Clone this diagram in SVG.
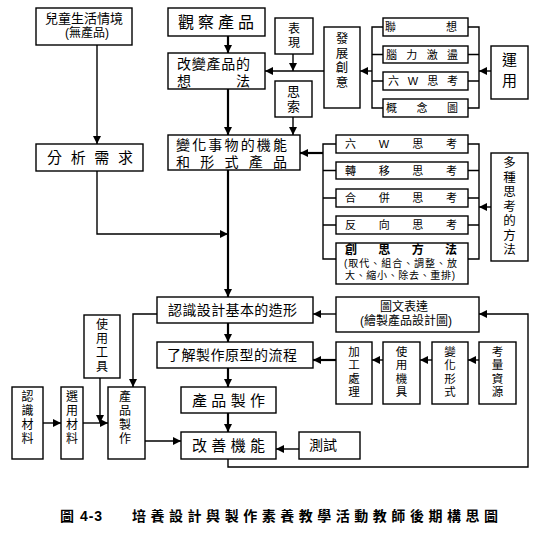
<svg xmlns="http://www.w3.org/2000/svg" width="552" height="540" viewBox="0 0 552 540">
<style>
text{font-family:"Liberation Sans","Noto Sans CJK TC","Noto Sans CJK SC",sans-serif;fill:#000;dominant-baseline:central}
.b{fill:#fff;stroke:#000;stroke-width:1.4}
.c{fill:none;stroke:#000;stroke-width:1.4}
.t{stroke-width:2.2}
.s10{font-size:10px}.s11{font-size:11px}.s115{font-size:11.5px}.s12{font-size:12px}.s125{font-size:12.5px}.s13{font-size:13px}.s14{font-size:14px}.s15{font-size:15px}.s16{font-size:16px}
.m{text-anchor:middle}
.bold{font-weight:bold}
</style>
<defs>
<marker id="ah" viewBox="0 0 10 10" refX="10" refY="5" markerWidth="8" markerHeight="8" orient="auto" markerUnits="userSpaceOnUse"><path d="M0,0 L10,5 L0,10 z" fill="#000"/></marker>
</defs>
<rect width="552" height="540" fill="#fff"/>

<g id="connectors">
<path class="c" d="M97,45 V144" marker-end="url(#ah)"/>
<path class="c t" d="M228,36 V53" marker-end="url(#ah)"/>
<path class="c t" d="M228,89 V135" marker-end="url(#ah)"/>
<path class="c" d="M293,54 V71" marker-end="url(#ah)"/>
<path class="c" d="M324,71 H265" marker-end="url(#ah)"/>
<path class="c" d="M293,117 V135" marker-end="url(#ah)"/>
<path class="c" d="M383,27 H372 V108 H383 M372,54.5 H383 M372,81 H383"/>
<path class="c" d="M372,71 H360" marker-end="url(#ah)"/>
<path class="c" d="M468,27 H479 V108 H468 M468,54.5 H479 M468,81 H479"/>
<path class="c" d="M491,71 H479" marker-end="url(#ah)"/>
<path class="c" d="M97,171 V234 H228" marker-end="url(#ah)"/>
<path class="c t" d="M228,170 V297" marker-end="url(#ah)"/>
<path class="c" d="M336,144 H323 V259 H336 M323,170.5 H336 M323,198 H336 M323,225 H336"/>
<path class="c t" d="M323,153 H300" marker-end="url(#ah)"/>
<path class="c" d="M468,144 H479 V259 H468 M468,170.5 H479 M468,198 H479 M468,225 H479"/>
<path class="c" d="M491,207 H479" marker-end="url(#ah)"/>
<path class="c" d="M157,314 H133 V387" marker-end="url(#ah)"/>
<path class="c t" d="M228,323 V342" marker-end="url(#ah)"/>
<path class="c t" d="M228,368 V387" marker-end="url(#ah)"/>
<path class="c t" d="M228,413 V432" marker-end="url(#ah)"/>
<path class="c" d="M336,314 H313" marker-end="url(#ah)"/>
<path class="c t" d="M336,360 H313" marker-end="url(#ah)"/>
<path class="c" d="M383,360 H372" marker-end="url(#ah)"/>
<path class="c" d="M432,360 H420" marker-end="url(#ah)"/>
<path class="c" d="M479,360 H468" marker-end="url(#ah)"/>
<path class="c" d="M100,378 V423" marker-end="url(#ah)"/>
<path class="c" d="M43,423 H61" marker-end="url(#ah)"/>
<path class="c" d="M83,423 H108" marker-end="url(#ah)"/>
<path class="c" d="M145,441 H181" marker-end="url(#ah)"/>
<path class="c" d="M299,449 H276" marker-end="url(#ah)"/>
<path class="c" d="M228,459 V467 H528 V314 H479" marker-end="url(#ah)"/>
</g>

<g id="n-situation">
<rect class="b" x="36" y="8" width="96" height="37"/>
<text class="s13 m" x="84" y="18">兒童生活情境</text>
<text class="s12 m" x="87" y="33">(無產品)</text>
</g>
<g id="n-observe">
<rect class="b" x="168" y="8" width="97" height="28"/>
<text class="s16" x="178" y="22" textLength="76" lengthAdjust="spacing">觀察產品</text>
</g>
<g id="n-change-idea">
<rect class="b" x="168" y="53" width="97" height="36"/>
<text class="s14" x="177" y="63.5" textLength="73" lengthAdjust="spacing">改變產品的</text>
<text class="s14" x="177" y="80.5" textLength="73" lengthAdjust="spacing">想法</text>
</g>
<g id="n-express">
<rect class="b" x="275" y="18" width="38" height="36"/>
<text class="s12 m" x="294" y="29">表</text>
<text class="s12 m" x="294" y="43">現</text>
</g>
<g id="n-think">
<rect class="b" x="275" y="81" width="37" height="36"/>
<text class="s13 m" x="293.5" y="91">思</text>
<text class="s13 m" x="293.5" y="106">索</text>
</g>
<g id="n-creativity">
<rect class="b" x="324" y="27" width="36" height="81"/>
<text class="s125 m" x="342" y="39">發</text>
<text class="s125 m" x="342" y="53.5">展</text>
<text class="s125 m" x="342" y="68">創</text>
<text class="s125 m" x="342" y="82.5">意</text>
</g>
<g id="n-assoc">
<rect class="b" x="383" y="18" width="85" height="18"/>
<text class="s11" x="385" y="27" textLength="72" lengthAdjust="spacing">聯想</text>
</g>
<g id="n-brainstorm">
<rect class="b" x="383" y="46" width="85" height="17"/>
<text class="s11" x="386" y="54.5" textLength="72" lengthAdjust="spacing">腦力激盪</text>
</g>
<g id="n-6w-a">
<rect class="b" x="383" y="72" width="85" height="18"/>
<text class="s11" x="388" y="81" textLength="70" lengthAdjust="spacing">六W思考</text>
</g>
<g id="n-conceptmap">
<rect class="b" x="383" y="99" width="85" height="18"/>
<text class="s11" x="386" y="108" textLength="72" lengthAdjust="spacing">概念圖</text>
</g>
<g id="n-apply">
<rect class="b" x="491" y="46" width="37" height="53"/>
<text class="s15 m" x="509.5" y="59">運</text>
<text class="s15 m" x="509.5" y="80">用</text>
</g>
<g id="n-analyze">
<rect class="b" x="36" y="144" width="107" height="27"/>
<text class="s15" x="47" y="157.5" textLength="86" lengthAdjust="spacing">分析需求</text>
</g>
<g id="n-change-form">
<rect class="b" x="168" y="135" width="132" height="35"/>
<text class="s14" x="176" y="144.5" textLength="111" lengthAdjust="spacing">變化事物的機能</text>
<text class="s14" x="176" y="161.5" textLength="111" lengthAdjust="spacing">和形式產品</text>
</g>
<g id="n-6w-b">
<rect class="b" x="336" y="135" width="132" height="18"/>
<text class="s11" x="345" y="144" textLength="112" lengthAdjust="spacing">六W思考</text>
</g>
<g id="n-transfer">
<rect class="b" x="336" y="162" width="132" height="17"/>
<text class="s11" x="345" y="170.5" textLength="112" lengthAdjust="spacing">轉移思考</text>
</g>
<g id="n-merge">
<rect class="b" x="336" y="189" width="132" height="18"/>
<text class="s11" x="345" y="198" textLength="112" lengthAdjust="spacing">合併思考</text>
</g>
<g id="n-reverse">
<rect class="b" x="336" y="216" width="132" height="18"/>
<text class="s11" x="345" y="225" textLength="112" lengthAdjust="spacing">反向思考</text>
</g>
<g id="n-methods">
<rect class="b" x="336" y="243" width="132" height="41"/>
<text class="s12 bold" x="345" y="250" textLength="112" lengthAdjust="spacing">創思方法</text>
<text class="s10" x="344" y="263" textLength="113" lengthAdjust="spacing">(取代、組合、調整、放</text>
<text class="s10" x="345" y="275.5" textLength="110" lengthAdjust="spacing">大、縮小、除去、重排)</text>
</g>
<g id="n-many">
<rect class="b" x="491" y="153" width="37" height="108"/>
<text class="s125 m" x="509.5" y="163">多</text>
<text class="s125 m" x="509.5" y="177.5">種</text>
<text class="s125 m" x="509.5" y="192">思</text>
<text class="s125 m" x="509.5" y="206.5">考</text>
<text class="s125 m" x="509.5" y="221">的</text>
<text class="s125 m" x="509.5" y="235.5">方</text>
<text class="s125 m" x="509.5" y="250">法</text>
</g>
<g id="n-basic-form">
<rect class="b" x="157" y="297" width="156" height="26"/>
<text class="s14" x="168" y="310" textLength="129" lengthAdjust="spacing">認識設計基本的造形</text>
</g>
<g id="n-drawing">
<rect class="b" x="336" y="297" width="143" height="35"/>
<text class="s12 m" x="404" y="307">圖文表達</text>
<text class="s12 m" x="406" y="321">(繪製產品設計圖)</text>
</g>
<g id="n-prototype">
<rect class="b" x="157" y="342" width="156" height="26"/>
<text class="s14" x="167" y="355" textLength="130" lengthAdjust="spacing">了解製作原型的流程</text>
</g>
<g id="n-process">
<rect class="b" x="336" y="342" width="36" height="62"/>
<text class="s115 m" x="354" y="351.5">加</text>
<text class="s115 m" x="354" y="365">工</text>
<text class="s115 m" x="354" y="378.5">處</text>
<text class="s115 m" x="354" y="392">理</text>
</g>
<g id="n-machine">
<rect class="b" x="383" y="342" width="37" height="62"/>
<text class="s115 m" x="401.5" y="351.5">使</text>
<text class="s115 m" x="401.5" y="365">用</text>
<text class="s115 m" x="401.5" y="378.5">機</text>
<text class="s115 m" x="401.5" y="392">具</text>
</g>
<g id="n-vary">
<rect class="b" x="432" y="342" width="36" height="62"/>
<text class="s115 m" x="450" y="351.5">變</text>
<text class="s115 m" x="450" y="365">化</text>
<text class="s115 m" x="450" y="378.5">形</text>
<text class="s115 m" x="450" y="392">式</text>
</g>
<g id="n-resource">
<rect class="b" x="479" y="342" width="37" height="62"/>
<text class="s115 m" x="497.5" y="351.5">考</text>
<text class="s115 m" x="497.5" y="365">量</text>
<text class="s115 m" x="497.5" y="378.5">資</text>
<text class="s115 m" x="497.5" y="392">源</text>
</g>
<g id="n-tools">
<rect class="b" x="84" y="315" width="36" height="63"/>
<text class="s12 m" x="102" y="325">使</text>
<text class="s12 m" x="102" y="339">用</text>
<text class="s12 m" x="102" y="353">工</text>
<text class="s12 m" x="102" y="367">具</text>
</g>
<g id="n-make-h">
<rect class="b" x="181" y="387" width="95" height="26"/>
<text class="s15" x="192" y="400" textLength="73" lengthAdjust="spacing">產品製作</text>
</g>
<g id="n-know-mat">
<rect class="b" x="12" y="387" width="31" height="72"/>
<text class="s12 m" x="27.5" y="397">認</text>
<text class="s12 m" x="27.5" y="411">識</text>
<text class="s12 m" x="27.5" y="425">材</text>
<text class="s12 m" x="27.5" y="439">料</text>
</g>
<g id="n-select-mat">
<rect class="b" x="61" y="387" width="22" height="72"/>
<text class="s12 m" x="72" y="397">選</text>
<text class="s12 m" x="72" y="411">用</text>
<text class="s12 m" x="72" y="425">材</text>
<text class="s12 m" x="72" y="439">料</text>
</g>
<g id="n-make-v">
<rect class="b" x="108" y="387" width="37" height="72"/>
<text class="s12 m" x="125" y="397">產</text>
<text class="s12 m" x="125" y="411">品</text>
<text class="s12 m" x="125" y="425">製</text>
<text class="s12 m" x="125" y="439">作</text>
</g>
<g id="n-improve">
<rect class="b" x="181" y="432" width="95" height="27"/>
<text class="s15" x="192" y="445" textLength="73" lengthAdjust="spacing">改善機能</text>
</g>
<g id="n-test">
<rect class="b" x="299" y="432" width="61" height="27"/>
<text class="s14" x="309" y="445">測試</text>
</g>

<g id="caption">
<text class="s14 bold" x="60" y="516">圖</text>
<text class="s14 bold" x="80" y="516" textLength="22" lengthAdjust="spacing">4-3</text>
<text class="s14 bold" x="132" y="516" textLength="366" lengthAdjust="spacing">培養設計與製作素養教學活動教師後期構思圖</text>
</g>
</svg>
